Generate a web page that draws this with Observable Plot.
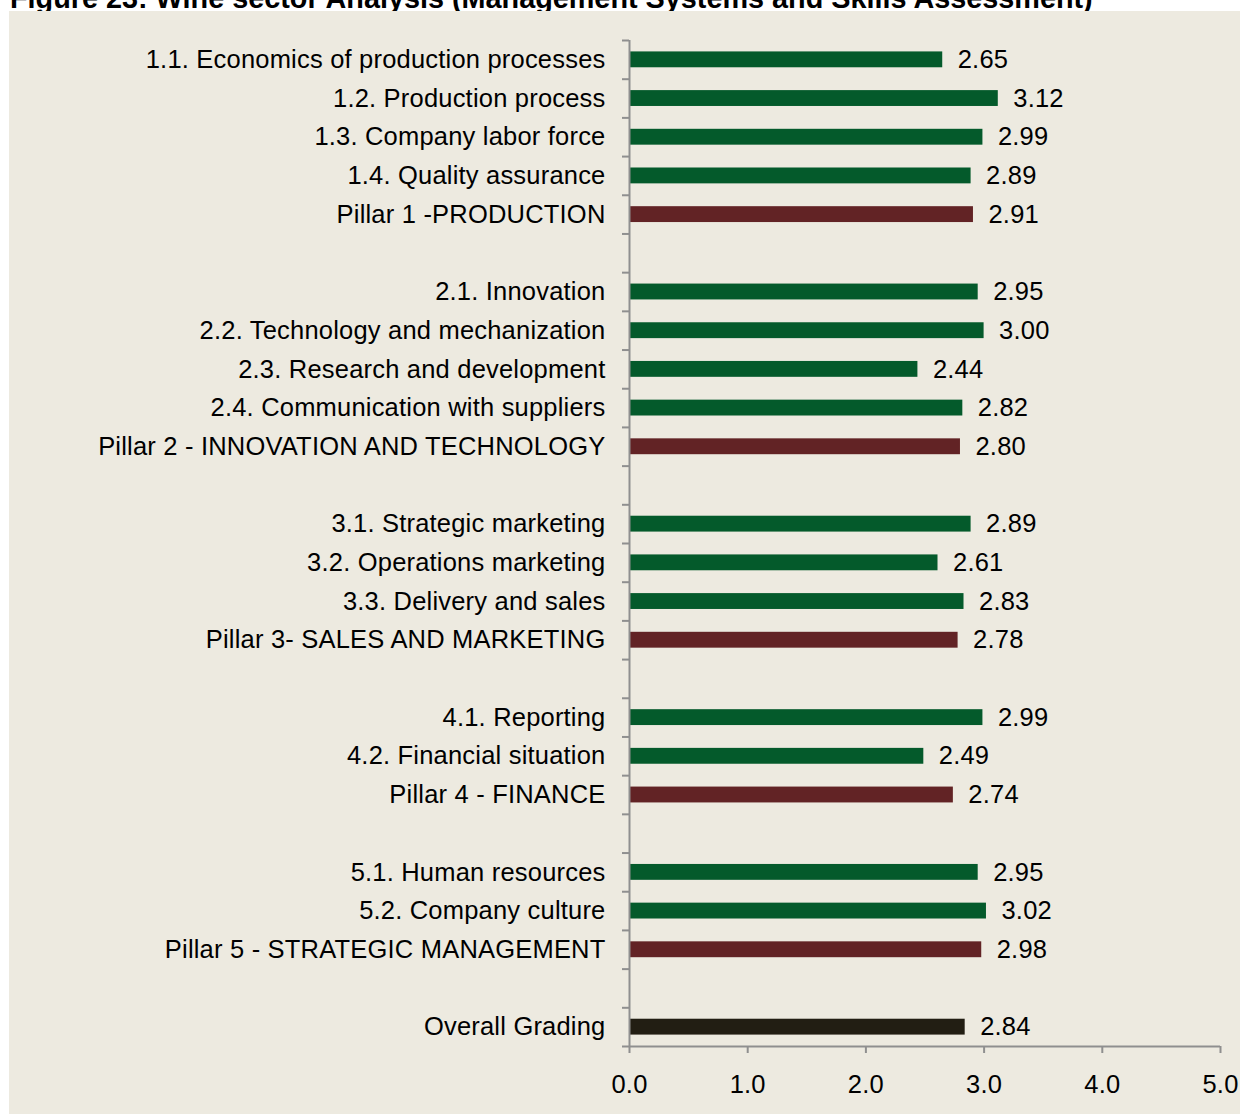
<!DOCTYPE html>
<html>
<head>
<meta charset="utf-8">
<script src="https://cdn.jsdelivr.net/npm/d3@7"></script>
<script src="https://cdn.jsdelivr.net/npm/@observablehq/plot@0.6"></script>
<style>
  html, body { margin: 0; padding: 0; background: #ffffff; }
  body { width: 1240px; height: 1115px; position: relative; overflow: hidden; font-family: "Liberation Sans", Arial, sans-serif; }
  #title { position: absolute; left: 10px; top: -16px; font-size: 28.8px; font-weight: bold; line-height: 1; white-space: nowrap; color: #000; }
  #panel { position: absolute; left: 9px; top: 11px; width: 1231px; height: 1103px; background: #EDEAE0; }
  #chart { position: absolute; left: 0; top: 0; }
</style>
</head>
<body>
<div id="title">Figure 23: Wine sector Analysis (Management Systems and Skills Assessment)</div>
<div id="panel"></div>
<div id="chart"></div>
<script>
// ---- data ----
const labels = [
  "1.1. Economics of production processes",
  "1.2. Production process",
  "1.3. Company labor force",
  "1.4. Quality assurance",
  "Pillar 1 -PRODUCTION",
  "",
  "2.1. Innovation",
  "2.2. Technology and mechanization",
  "2.3. Research and development",
  "2.4. Communication with suppliers",
  "Pillar 2 - INNOVATION AND TECHNOLOGY",
  "",
  "3.1. Strategic marketing",
  "3.2. Operations marketing",
  "3.3. Delivery and sales",
  "Pillar 3- SALES AND MARKETING",
  "",
  "4.1. Reporting",
  "4.2. Financial situation",
  "Pillar 4 - FINANCE",
  "",
  "5.1. Human resources",
  "5.2. Company culture",
  "Pillar 5 - STRATEGIC MANAGEMENT",
  "",
  "Overall Grading"
];
const values = [
  2.65, 3.12, 2.99, 2.89, 2.91, null,
  2.95, 3.00, 2.44, 2.82, 2.80, null,
  2.89, 2.61, 2.83, 2.78, null,
  2.99, 2.49, 2.74, null,
  2.95, 3.02, 2.98, null,
  2.84
];
const kinds = [
  "item", "item", "item", "item", "pillar", "blank",
  "item", "item", "item", "item", "pillar", "blank",
  "item", "item", "item", "pillar", "blank",
  "item", "item", "pillar", "blank",
  "item", "item", "pillar", "blank",
  "overall"
];
const xTicks = [0, 1, 2, 3, 4, 5];

// ---- table built from the arrays ----
const rows = labels.map((label, i) => ({i, label, value: values[i], kind: kinds[i]}));
const bars = rows.filter(d => d.value != null);
const n = rows.length;
const boundaries = d3.range(n + 1).map(k => k - 0.5);

const axisGray = "#8f8f8f";

const chart = Plot.plot({
  width: 1240,
  height: 1115,
  marginLeft: 629,
  marginRight: 20,
  marginTop: 40,
  marginBottom: 69,
  style: {background: "transparent", fontFamily: "'Liberation Sans', Arial, sans-serif", color: "#000"},
  x: {domain: [0, 5], axis: null, label: null},
  y: {domain: [n - 0.5, -0.5], axis: null, label: null},
  color: {domain: ["item", "pillar", "overall"], range: ["#045A2B", "#622325", "#221E13"]},
  marks: [
    Plot.rectX(bars, {
      x1: 0,
      x2: "value",
      y1: d => d.i - 0.205,
      y2: d => d.i + 0.205,
      fill: "kind"
    }),
    Plot.text(bars, {
      x: "value",
      y: "i",
      text: d => d.value.toFixed(2),
      textAnchor: "start",
      dx: 15,
      fontSize: 25.5,
      fill: "#000"
    }),
    Plot.text(rows.filter(d => d.label !== ""), {
      x: 0,
      y: "i",
      text: "label",
      textAnchor: "end",
      dx: -24,
      fontSize: 25.5,
      fill: "#000"
    }),
    // y axis: boundary ticks + line
    Plot.axisY({ticks: boundaries, tickSize: 7, tickFormat: () => "", stroke: axisGray, strokeWidth: 2, label: null}),
    Plot.ruleX([0], {stroke: axisGray, strokeWidth: 2}),
    // x axis ticks
    Plot.axisX({ticks: xTicks, tickSize: 7, tickFormat: () => "", stroke: axisGray, strokeWidth: 2, label: null}),
    Plot.ruleY([n - 0.5], {x1: 0, x2: 5, stroke: axisGray, strokeWidth: 2}),
    // x tick labels
    Plot.text(xTicks, {
      x: d => d,
      y: n - 0.5,
      text: d => d3.format(".1f")(d),
      dy: 38,
      fontSize: 25.5,
      fill: "#000"
    })
  ]
});

d3.select(chart).selectAll("g[aria-label='text'] text").attr("letter-spacing", "0.2px");

document.getElementById("chart").appendChild(chart);
</script>
</body>
</html>
